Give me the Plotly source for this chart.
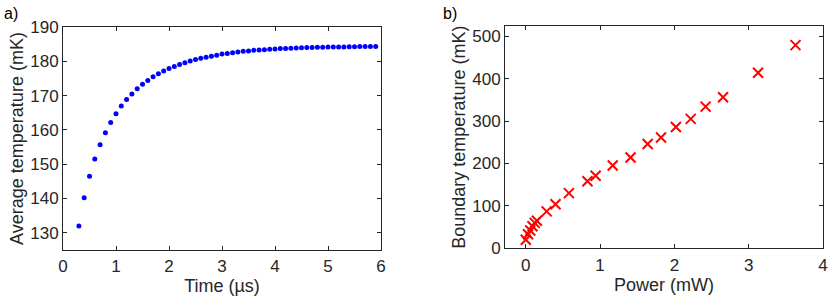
import plotly.graph_objects as go

# Panel a) data
time_us = [0.3, 0.4, 0.5, 0.6, 0.7, 0.8, 0.9, 1.0, 1.1, 1.2, 1.3, 1.4, 1.5, 1.6, 1.7,
           1.8, 1.9, 2.0, 2.1, 2.2, 2.3, 2.4, 2.5, 2.6, 2.7, 2.8, 2.9, 3.0, 3.1, 3.2,
           3.3, 3.4, 3.5, 3.6, 3.7, 3.8, 3.9, 4.0, 4.1, 4.2, 4.3, 4.4, 4.5, 4.6, 4.7,
           4.8, 4.9, 5.0, 5.1, 5.2, 5.3, 5.4, 5.5, 5.6, 5.7, 5.8, 5.9]
avg_temp_mK = [132.0, 140.2, 146.5, 151.5, 155.7, 159.2, 162.2, 164.7, 167.0, 168.9,
               170.5, 172.0, 173.3, 174.4, 175.5, 176.4, 177.2, 177.9, 178.5, 179.1,
               179.6, 180.1, 180.5, 180.9, 181.2, 181.5, 181.8, 182.1, 182.3, 182.5,
               182.7, 182.9, 183.0, 183.2, 183.3, 183.4, 183.5, 183.6, 183.7, 183.75,
               183.8, 183.9, 183.95, 184.0, 184.05, 184.1, 184.1, 184.15, 184.2, 184.2,
               184.2, 184.25, 184.25, 184.3, 184.3, 184.3, 184.3]

# Panel b) data
power_mW = [0.0, 0.03, 0.06, 0.09, 0.12, 0.15, 0.28, 0.40, 0.58, 0.83, 0.94, 1.17,
            1.41, 1.64, 1.82, 2.02, 2.22, 2.42, 2.655, 3.126, 3.63]
boundary_temp_mK = [20, 33, 42, 52, 60, 65, 87, 104, 130, 158, 171, 195,
                    214, 246, 261, 286, 305, 334, 356, 414, 479]

a_xticks = [0, 1, 2, 3, 4, 5, 6]
a_yticks = [130, 140, 150, 160, 170, 180, 190]
b_xticks = [0, 1, 2, 3, 4]
b_yticks = [0, 100, 200, 300, 400, 500]

W, H = 831, 303
ink = "#262626"
font = "Liberation Sans, Arial, sans-serif"

fig = go.Figure()
fig.add_trace(go.Scatter(x=time_us, y=avg_temp_mK, mode="markers",
                         marker=dict(color="#0000ff", size=5, symbol="circle"),
                         xaxis="x", yaxis="y", showlegend=False, cliponaxis=False))
fig.add_trace(go.Scatter(x=power_mW, y=boundary_temp_mK, mode="markers",
                         marker=dict(color="#ff0000", size=10, symbol="x-thin",
                                     line=dict(color="#ff0000", width=2)),
                         xaxis="x2", yaxis="y2", showlegend=False, cliponaxis=False))

def ax(**kw):
    d = dict(showgrid=False, zeroline=False, showline=True, linecolor=ink, linewidth=1,
             mirror="ticks", ticks="inside", ticklen=4, tickcolor=ink, tickwidth=1,
             automargin=False, ticklabeloverflow="allow",
             tickfont=dict(family=font, size=17, color=ink),
             title_font=dict(family=font, size=18, color=ink))
    d.update(kw)
    return d

fig.update_layout(
    template="none",
    width=W, height=H, margin=dict(l=0, r=0, t=0, b=0, autoexpand=False),
    paper_bgcolor="white", plot_bgcolor="white",
    xaxis=ax(domain=[63/W, 381/W], range=[0, 6], tickvals=a_xticks, ticklabelstandoff=1,
             title=dict(text="Time (µs)", standoff=0), anchor="y"),
    yaxis=ax(domain=[1-250/H, 1-27/H], range=[125, 190], tickvals=a_yticks,
             title=dict(text="Average temperature (mK)", standoff=1), anchor="x"),
    xaxis2=ax(domain=[505/W, 823/W], range=[-0.28, 4], tickvals=b_xticks, ticklabelstandoff=1,
              title=dict(text="Power (mW)", standoff=0), anchor="y2"),
    yaxis2=ax(domain=[1-248.3/H, 1-26/H], range=[0, 524], tickvals=b_yticks,
              title=dict(text="Boundary temperature (mK)", standoff=1), anchor="x2"),
    annotations=[
        dict(text="a)", x=2/W, y=1-3/H, xref="paper", yref="paper", xanchor="left",
             yanchor="top", showarrow=False, font=dict(family=font, size=16, color="black")),
        dict(text="b)", x=441/W, y=1-3/H, xref="paper", yref="paper", xanchor="left",
             yanchor="top", showarrow=False, font=dict(family=font, size=16, color="black")),
    ],
)

fig.write_html("out.html", config={"displayModeBar": False},
               post_script="document.body.style.margin='0';")
